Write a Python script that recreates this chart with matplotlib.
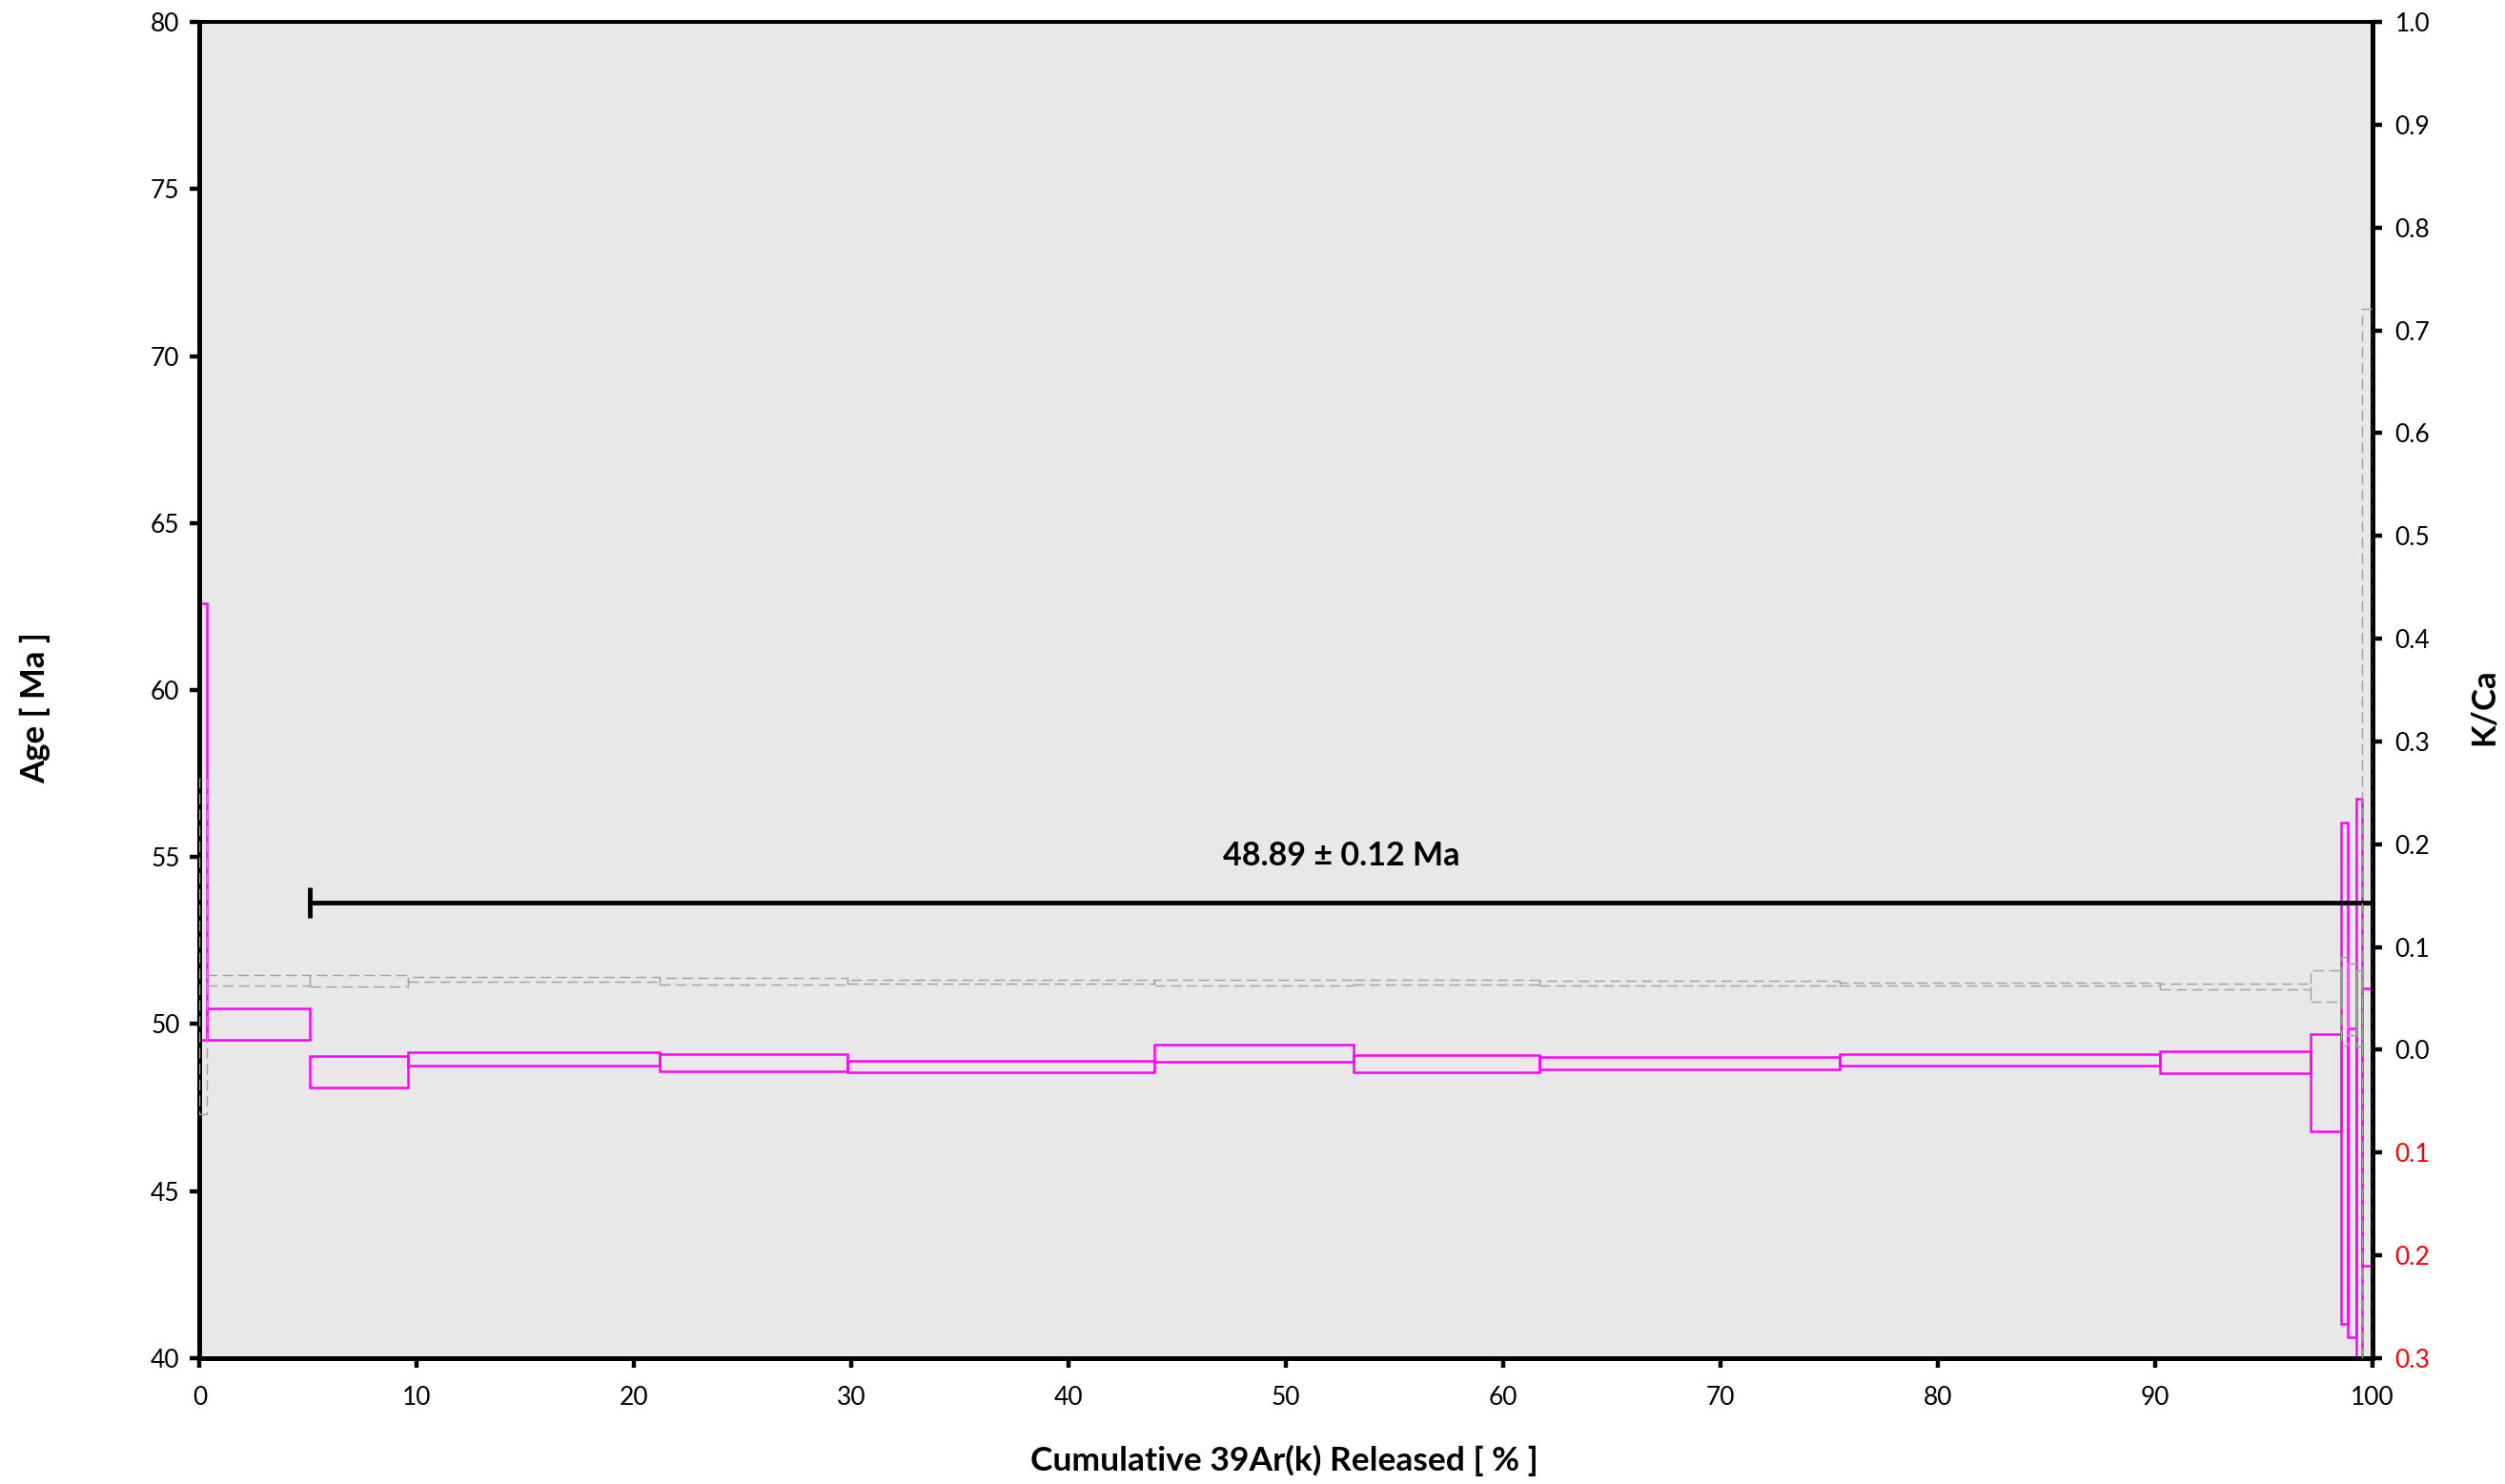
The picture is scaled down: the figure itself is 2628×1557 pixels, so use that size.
import matplotlib
matplotlib.use("Agg")
from matplotlib import pyplot as plt
from matplotlib.patches import Rectangle
from matplotlib.ticker import FixedLocator, FuncFormatter

plt.rcParams['font.family'] = ['Lato', 'DejaVu Sans']

# cumulative 39Ar(k) released, step edges [%]
step_edges = [0, 0.35, 5.07, 9.6, 21.15, 29.8, 43.95, 53.1, 61.65, 75.5,
              90.2, 97.15, 98.54, 98.87, 99.27, 99.53, 100]

# apparent age boxes [Ma] (upper / lower 2 sigma)
age_hi = [62.6, 50.47, 49.05, 49.16, 49.09, 48.90, 49.38, 49.08, 49.02, 49.09,
          49.18, 49.69, 56.02, 49.86, 56.74, 51.06]
age_lo = [49.53, 49.54, 48.10, 48.75, 48.58, 48.57, 48.88, 48.56, 48.64, 48.76,
          48.54, 46.80, 41.03, 40.64, 38.5, 42.78]

# K/Ca boxes
kca_hi = [0.264, 0.0724, 0.073, 0.0711, 0.0696, 0.068, 0.0683, 0.0683, 0.0668, 0.0656,
          0.0647, 0.077, 0.0903, 0.0841, 0.0776, 0.721]
kca_lo = [-0.063, 0.0622, 0.0616, 0.0659, 0.0631, 0.064, 0.0622, 0.0631, 0.0628, 0.0622,
          0.0585, 0.0464, 0.0044, 0.0143, 0.0029, -0.35]

# plateau
plateau_start = 5.07
plateau_end = 100
plateau_y = 53.63
plateau_cap = 0.45
plateau_label = "48.89 ± 0.12 Ma"

age_ticks = [40, 45, 50, 55, 60, 65, 70, 75, 80]
kca_ticks = [-0.3, -0.2, -0.1, 0.0, 0.1, 0.2, 0.3, 0.4, 0.5, 0.6, 0.7, 0.8, 0.9, 1.0]
x_ticks = [0, 10, 20, 30, 40, 50, 60, 70, 80, 90, 100]

fig = plt.figure(figsize=(26.28, 15.57), dpi=100)
ax = fig.add_axes([0.0797, 0.0848, 0.8674, 0.9004])
ax.set_facecolor('#e8e8e8')
ax.set_xlim(0, 100)
ax.set_ylim(40, 80)
ax2 = ax.twinx()
ax2.set_ylim(-0.3, 1.0)

for i in range(len(age_hi)):
    x0, x1 = step_edges[i], step_edges[i + 1]
    ax.add_patch(Rectangle((x0, age_lo[i]), x1 - x0, age_hi[i] - age_lo[i],
                           fill=False, edgecolor='#ff00ff', linewidth=1.8, zorder=3))
    ax2.add_patch(Rectangle((x0, kca_lo[i]), x1 - x0, kca_hi[i] - kca_lo[i],
                            fill=False, edgecolor='#a0a0a0', linewidth=1.0,
                            linestyle=(0, (8, 4)), zorder=3))

# plateau bar
ax.hlines(plateau_y, plateau_start, plateau_end, color='black', linewidth=3.5, zorder=4)
ax.vlines(plateau_start, plateau_y - plateau_cap, plateau_y + plateau_cap,
          color='black', linewidth=3.5, zorder=4)
ax.text((plateau_start + plateau_end) / 2, plateau_y + 1.4, plateau_label,
        ha='center', va='center', fontsize=24.5, fontweight='bold')

for a in (ax, ax2):
    for s in a.spines.values():
        s.set_linewidth(3.6)
        s.set_color('black')
    a.spines['top'].set_linewidth(2.8)

ax.xaxis.set_major_locator(FixedLocator(x_ticks))
ax.yaxis.set_major_locator(FixedLocator(age_ticks))
ax.tick_params(axis='both', direction='out', length=7, width=3.2, labelsize=19, pad=8)
ax.tick_params(axis='x', pad=14)

ax2.yaxis.set_major_locator(FixedLocator(kca_ticks))
ax2.yaxis.set_major_formatter(FuncFormatter(lambda v, p: "%.1f" % abs(v)))
ax2.tick_params(axis='y', direction='out', length=7, width=3.2, labelsize=19, pad=10)
for lab, v in zip(ax2.get_yticklabels(), kca_ticks):
    if v < -1e-9:
        lab.set_color('red')

fig.text(0.0141, 0.5234, "Age [ Ma ]", rotation=90, ha='center', va='center',
         fontsize=25, fontweight='bold')
fig.text(0.9917, 0.5234, "K/Ca", rotation=90, ha='center', va='center',
         fontsize=25, fontweight='bold')
fig.text(0.5127, 0.016, "Cumulative 39Ar(k) Released [ % ]", ha='center', va='center',
         fontsize=25.5, fontweight='bold')

fig.savefig("out.png", dpi=100)
